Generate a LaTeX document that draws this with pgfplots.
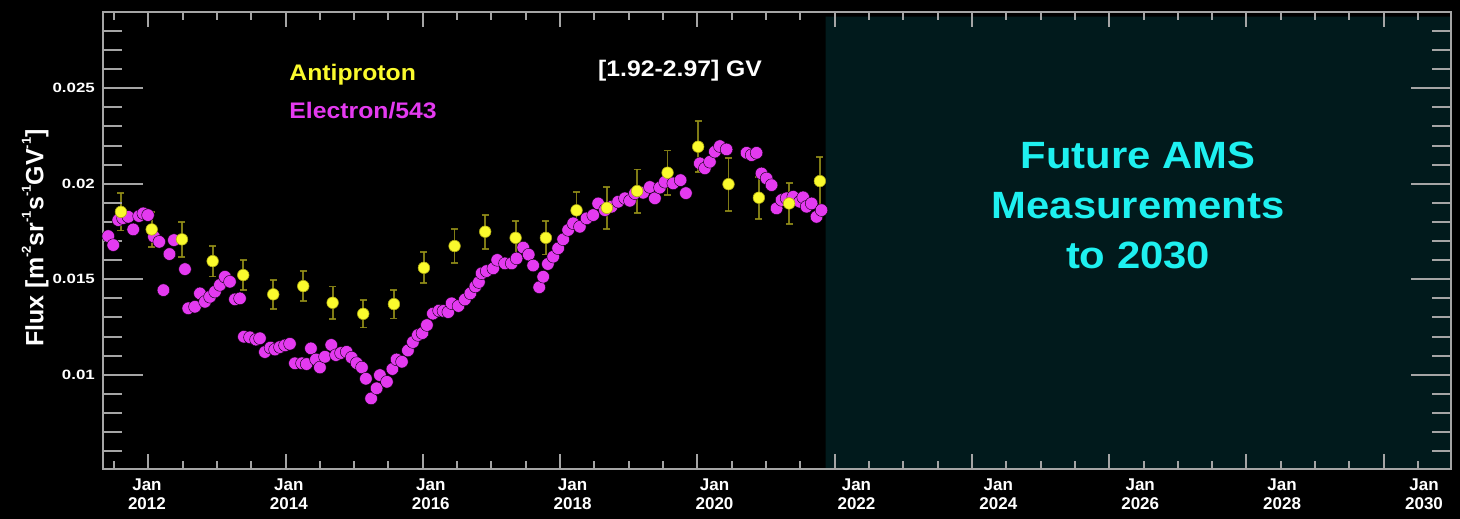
\documentclass[border=0pt]{standalone}
\usepackage{pgfplots}
\pgfplotsset{compat=1.18}
\usepackage{pgfplotstable}
\usepackage{graphicx}
\usepackage{fontspec}
\setmainfont{Liberation Sans}
\newfontfamily\widesans{Liberation Sans}[FakeStretch=1.1]
\newfontfamily\tickfont{Liberation Sans}[FakeStretch=1.25]

\definecolor{framegray}{RGB}{165,165,165}
\definecolor{apyellow}{RGB}{250,250,45}
\definecolor{apedge}{RGB}{175,170,20}
\definecolor{errolive}{RGB}{150,145,25}
\definecolor{emag}{RGB}{228,58,240}
\definecolor{futurebg}{RGB}{1,26,28}
\definecolor{futuretext}{RGB}{30,240,240}

% Antiproton flux, 1.92-2.97 GV, with total uncertainty
\pgfplotstableread{
year      flux     err
2011.602  0.01853  0.00098
2012.050  0.01761  0.00090
2012.491  0.01709  0.00092
2012.938  0.01595  0.00081
2013.384  0.01522  0.00079
2013.821  0.01421  0.00076
2014.258  0.01464  0.00079
2014.686  0.01377  0.00085
2015.132  0.01319  0.00072
2015.579  0.01370  0.00075
2016.016  0.01560  0.00081
2016.463  0.01674  0.00088
2016.909  0.01749  0.00089
2017.352  0.01717  0.00087
2017.793  0.01717  0.00087
2018.240  0.01861  0.00094
2018.682  0.01874  0.00109
2019.123  0.01962  0.00113
2019.566  0.02058  0.00116
2020.012  0.02194  0.00134
2020.454  0.01998  0.00139
2020.896  0.01927  0.00110
2021.337  0.01897  0.00109
2021.785  0.02014  0.00126
}\antiproton

% Electron flux scaled by 1/543, same rigidity bin
\pgfplotstableread{
year      flux
2011.417  0.01726
2011.490  0.01679
2011.563  0.01810
2011.631  0.01820
2011.709  0.01827
2011.781  0.01761
2011.865  0.01831
2011.927  0.01845
2011.996  0.01836
2012.083  0.01723
2012.160  0.01696
2012.221  0.01443
2012.309  0.01632
2012.374  0.01705
2012.535  0.01553
2012.583  0.01348
2012.680  0.01356
2012.753  0.01426
2012.826  0.01382
2012.899  0.01408
2012.972  0.01435
2013.044  0.01470
2013.117  0.01513
2013.190  0.01487
2013.263  0.01395
2013.336  0.01400
2013.394  0.01199
2013.481  0.01196
2013.569  0.01184
2013.627  0.01191
2013.700  0.01119
2013.780  0.01142
2013.846  0.01132
2013.918  0.01145
2013.991  0.01154
2014.064  0.01162
2014.137  0.01060
2014.239  0.01060
2014.307  0.01056
2014.370  0.01138
2014.443  0.01080
2014.501  0.01038
2014.574  0.01094
2014.666  0.01156
2014.734  0.01103
2014.807  0.01114
2014.890  0.01120
2014.963  0.01090
2015.036  0.01061
2015.113  0.01038
2015.171  0.00979
2015.247  0.00876
2015.327  0.00929
2015.375  0.00998
2015.477  0.00963
2015.557  0.01030
2015.618  0.01080
2015.696  0.01068
2015.783  0.01127
2015.856  0.01171
2015.929  0.01208
2015.994  0.01218
2016.060  0.01260
2016.147  0.01320
2016.235  0.01336
2016.300  0.01334
2016.370  0.01328
2016.420  0.01374
2016.519  0.01360
2016.613  0.01394
2016.693  0.01426
2016.766  0.01462
2016.817  0.01485
2016.857  0.01531
2016.929  0.01543
2017.026  0.01557
2017.084  0.01601
2017.196  0.01583
2017.294  0.01583
2017.366  0.01609
2017.463  0.01666
2017.543  0.01629
2017.608  0.01572
2017.696  0.01458
2017.754  0.01513
2017.822  0.01580
2017.900  0.01618
2017.972  0.01662
2018.045  0.01709
2018.118  0.01758
2018.191  0.01793
2018.288  0.01775
2018.386  0.01819
2018.482  0.01836
2018.555  0.01897
2018.653  0.01862
2018.750  0.01880
2018.846  0.01906
2018.944  0.01924
2019.017  0.01911
2019.090  0.01950
2019.211  0.01953
2019.308  0.01983
2019.381  0.01924
2019.454  0.01980
2019.527  0.02010
2019.648  0.02002
2019.755  0.02019
2019.833  0.01951
2020.036  0.02107
2020.109  0.02081
2020.182  0.02115
2020.255  0.02168
2020.328  0.02197
2020.425  0.02180
2020.717  0.02162
2020.790  0.02150
2020.862  0.02162
2020.935  0.02054
2021.008  0.02028
2021.081  0.01993
2021.154  0.01871
2021.227  0.01915
2021.299  0.01924
2021.396  0.01932
2021.493  0.01906
2021.541  0.01929
2021.591  0.01880
2021.664  0.01897
2021.736  0.01827
2021.809  0.01862
}\electron

\begin{document}
\begin{tikzpicture}
\fill[black] (0,0) rectangle (1460pt,519pt);
\begin{axis}[
  at={(103.3pt,50.3pt)}, anchor=south west,
  scale only axis, width=1347.7pt, height=456.4pt,
  xmin=2011.345, xmax=2030.98,
  ymin=0.00508, ymax=0.02898,
  axis background/.style={fill=black},
  axis line style={draw=framegray, line width=2pt},
  axis on top,
  tick align=inside,
  every tick/.style={draw=framegray, line width=2pt},
  xtick style={/pgfplots/major tick length=14.7pt, /pgfplots/minor tick length=8pt},
  ytick style={/pgfplots/major tick length=40pt, /pgfplots/minor tick length=19pt},
  xtick={2012,2014,2016,2018,2020,2022,2024,2026,2028,2030},
  xticklabels={},
  minor xtick={2011.5,2012.5,2013,2013.5,2014.5,2015,2015.5,2016.5,2017,2017.5,2018.5,2019,2019.5,2020.5,2021,2021.5,2022.5,2023,2023.5,2024.5,2025,2025.5,2026.5,2027,2027.5,2028.5,2029,2029.5,2030.5},
  extra x ticks={2011.981,2014.048,2016.116,2018.183,2020.250,2022.318,2024.385,2026.452,2028.519,2030.587},
  extra x tick labels={{Jan\\2012},{Jan\\2014},{Jan\\2016},{Jan\\2018},{Jan\\2020},{Jan\\2022},{Jan\\2024},{Jan\\2026},{Jan\\2028},{Jan\\2030}},
  extra x tick style={/pgfplots/major tick length=0pt, tick style={draw=none}},
  xticklabel pos=lower,
  xticklabel style={align=center, anchor=north, inner sep=0pt, yshift=-9.5pt,
    text=white, font=\bfseries\fontsize{17}{19}\selectfont},
  ytick={0.01,0.015,0.02,0.025},
  yticklabels={0.01,0.015,0.02,0.025},
  minor ytick={0.006,0.007,0.008,0.009,0.011,0.012,0.013,0.014,0.016,0.017,0.018,0.019,0.021,0.022,0.023,0.024,0.026,0.027,0.028},
  yticklabel pos=left,
  yticklabel style={anchor=east, inner sep=0pt, xshift=-8.3pt,
    text=white, font=\tickfont\bfseries\fontsize{13.5}{14}\selectfont},
  ylabel={Flux [m\raisebox{0.5em}{\fontsize{13}{13}\selectfont -2}sr\raisebox{0.5em}{\fontsize{13}{13}\selectfont -1}s\raisebox{0.5em}{\fontsize{13}{13}\selectfont -1}GV\raisebox{0.5em}{\fontsize{13}{13}\selectfont -1}]},
  every axis y label/.style={at={(axis description cs:-0.0445,0.5055)}, rotate=90, anchor=base,
    text=white, font=\bfseries\fontsize{25}{25}\selectfont},
]
% period not yet measured
\addplot[draw=none, fill=futurebg, forget plot]
  coordinates {(2021.87,0.00508) (2030.98,0.00508) (2030.98,0.02875) (2021.87,0.02875)} \closedcycle;

% electrons
\addplot[only marks, mark=*, mark size=6.3pt, mark options={fill=emag, draw=none}]
  table[x=year, y=flux] {\electron};

% antiproton error bars, then the points on top
\addplot[only marks, mark=none,
  error bars/.cd, y dir=both, y explicit,
  error bar style={errolive, line width=1.8pt, opacity=0.85},
  error mark options={rotate=90, mark size=3.5pt, errolive, line width=1.8pt}]
  table[x=year, y=flux, y error=err] {\antiproton};
\addplot[only marks, mark=*, mark size=5.8pt, mark options={fill=apyellow, draw=apedge, line width=0.6pt}]
  table[x=year, y=flux] {\antiproton};

\node[anchor=base west, inner sep=0pt, text=apyellow, font=\widesans\bfseries\fontsize{22.5}{22.5}\selectfont]
  at (axis description cs:0.1380,0.8495) {Antiproton};
\node[anchor=base west, inner sep=0pt, text=emag, font=\widesans\bfseries\fontsize{22.5}{22.5}\selectfont]
  at (axis description cs:0.1380,0.7677) {Electron/543};
\node[anchor=base west, inner sep=0pt, text=white, font=\widesans\bfseries\fontsize{22.5}{22.5}\selectfont]
  at (axis description cs:0.3671,0.8589) {[1.92-2.97] GV};

\node[anchor=base, inner sep=0pt, text=futuretext, font=\widesans\bfseries\fontsize{38}{38}\selectfont]
  at (axis description cs:0.7678,0.6582) {Future AMS};
\node[anchor=base, inner sep=0pt, text=futuretext, font=\widesans\bfseries\fontsize{38}{38}\selectfont]
  at (axis description cs:0.7678,0.5486) {Measurements};
\node[anchor=base, inner sep=0pt, text=futuretext, font=\widesans\bfseries\fontsize{38}{38}\selectfont]
  at (axis description cs:0.7678,0.4391) {to 2030};
\end{axis}
\pgfresetboundingbox
\useasboundingbox (0,0) rectangle (1460pt,519pt);
\end{tikzpicture}
\end{document}
